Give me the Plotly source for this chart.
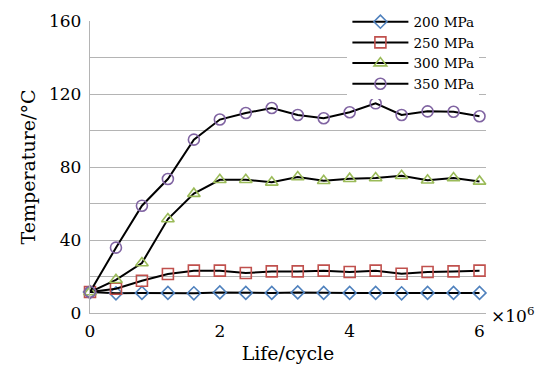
import plotly.graph_objects as go

life = [0, 0.4, 0.8, 1.2, 1.6, 2.0, 2.4, 2.8, 3.2, 3.6, 4.0, 4.4, 4.8, 5.2, 5.6, 6.0]
t200 = [11.5, 10.8, 11, 11, 10.8, 11.3, 11, 11, 11.3, 11, 11, 11, 10.8, 11, 11, 11]
t250 = [11.5, 13.3, 17.7, 21.4, 23.2, 23.2, 21.9, 22.8, 22.8, 23.2, 22.5, 23.2, 21.5, 22.5, 22.8, 23.2]
t300 = [11.5, 18.2, 27.4, 51.5, 65.4, 73, 73, 71.6, 74.5, 72.5, 73.6, 74, 75.2, 72.7, 74, 72.1]
t350 = [11.5, 35.8, 58.8, 73.4, 95, 106, 109.6, 112.3, 108.5, 106.7, 110, 114.9, 108.5, 110.5, 110.3, 107.8]

names = ["200 MPa", "250 MPa", "300 MPa", "350 MPa"]
colors = ["#4F81BD", "#C0504D", "#9BBB59", "#8064A2"]
symbols = ["diamond-open", "square-open", "triangle-up-open", "circle-open"]
sizes = [10, 11, 11, 11]
series = [t200, t250, t300, t350]

yticks = [0, 20, 40, 60, 80, 100, 120, 140, 160]
ylabels = ["0", "", "40", "", "80", "", "120", "", "160"]
xticks = [0, 2, 4, 6]

font = "DejaVu Serif"
fig = go.Figure()
for name, col, sym, sz, vals in zip(names, colors, symbols, sizes, series):
    fig.add_trace(go.Scatter(
        x=life, y=vals, name=name, mode="lines+markers",
        line=dict(color="black", width=2),
        marker=dict(symbol=sym, size=sz, color=col, line=dict(color=col, width=1.6)),
        cliponaxis=False,
    ))

# page body has an 8px margin, so the figure is sized/offset to compensate
fig.update_layout(
    width=527, height=356,
    margin=dict(l=82, r=48.5, t=13, b=51, autoexpand=False),
    paper_bgcolor="white", plot_bgcolor="white",
    font=dict(family=font, size=17, color="black"),
    showlegend=True,
    legend=dict(x=0.65, y=1.05, xanchor="left", yanchor="top",
                bgcolor="white", borderwidth=0, font=dict(size=13.6, family=font),
                itemwidth=56, tracegroupgap=0),
    xaxis=dict(range=[0, 6.1], tickvals=xticks, ticktext=[str(v) for v in xticks],
               showgrid=False, zeroline=False, showline=True, linecolor="#b4b4b4",
               linewidth=1.3, ticks="", tickfont=dict(size=17), ticklabelstandoff=2,
               title=dict(text="Life/cycle", font=dict(size=19), standoff=11)),
    yaxis=dict(range=[0, 160], tickvals=yticks, ticktext=ylabels,
               showgrid=True, gridcolor="#b4b4b4", gridwidth=1.3, zeroline=False,
               showline=True, linecolor="#b4b4b4", linewidth=1.3, ticks="",
               tickfont=dict(size=17), ticklabelstandoff=4,
               title=dict(text="Temperature/°C", font=dict(size=19), standoff=8)),
)
fig.add_annotation(xref="paper", yref="y", x=1, y=0, xanchor="left", yanchor="middle",
                   xshift=3, yshift=-2, showarrow=False,
                   text="×10<sup>6</sup>", font=dict(size=17, family=font))

fig.write_html("out.html")
